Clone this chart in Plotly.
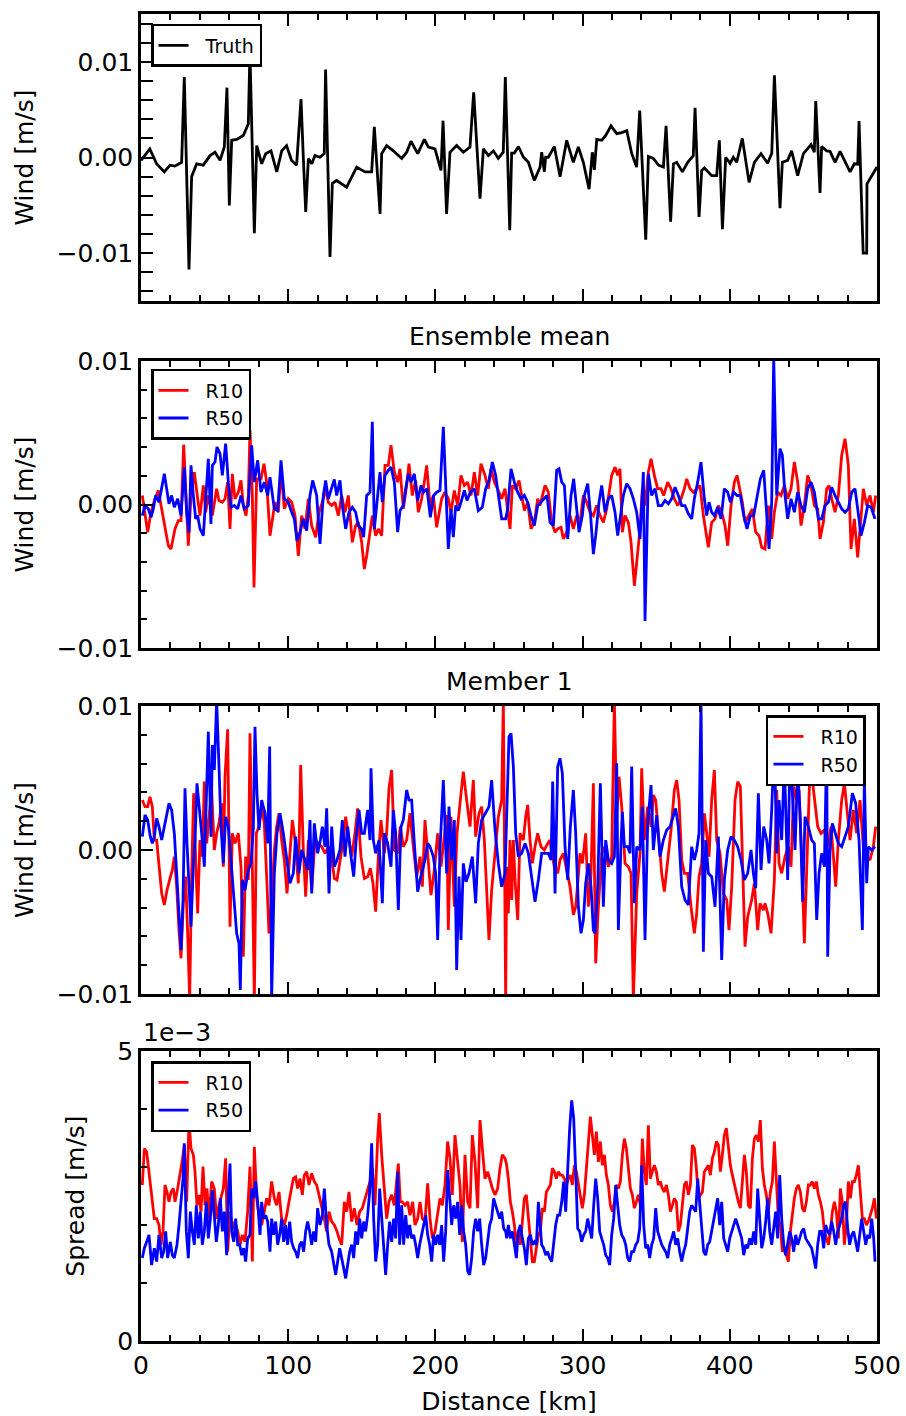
import numpy as np
import plotly.graph_objects as go

# Wind values are stored in units of 1e-3 m/s, positions in km.
WIND_UNIT = 1e-3

TRUTH = [
    (0, -0.3), (6, 0.9), (10.6, -0.66), (15.8, -1.5), (19.7, -0.8), (23, -0.9), (27.6, -0.5),
    (29.4, 8.4), (32.6, -11.7), (34.4, -2.0), (37.8, -0.66), (42.3, -0.8), (46.9, 0.2), (50.3, 0.55),
    (53.7, -0.3), (56.6, 1.1), (58.4, 7.3), (60, -5.0), (61.6, 1.8), (65, 1.9), (69.5, 2.3), (72.9, 3.5),
    (74, 11.1), (77, -7.9), (78.6, 1.25), (82, -0.66), (84.7, 0.4), (88.3, 0.7), (92.2, -1.5), (95.6, 0.7),
    (98.9, 1.25), (102.3, -0.3), (105.7, -0.8), (108.7, 6.1), (110.3, -0.1), (111.9, -5.7), (113.7, -0.1),
    (116, -0.66), (118.2, 0.2), (121.6, 0.03), (124.5, 0.4), (125.4, 9.2), (128.4, -10.4), (130, -2.7),
    (132.9, -2.4), (139.7, -3.1), (146.5, -1.0), (152.2, -1.5), (156.7, -1.5), (158.5, 3.2), (162.4, -5.9),
    (163.5, 0.4), (166.9, 1.25), (171.4, 0.7), (177.1, -0.1), (180.5, 0.55), (183.4, 1.7), (188, 0.4),
    (192.5, 1.9), (195.2, 1.1), (199.7, 0.9), (203.8, -1.35), (205.2, 3.85), (207.6, -5.9), (209.9, 0.55),
    (214.4, 1.25), (219, 0.55), (223.5, 1.1), (226, 6.8), (230.3, -4.3), (232.6, 0.9), (236, 0.2),
    (239.4, 0.7), (242.7, -0.1), (246.1, 0.55), (247.5, 8.4), (250.5, -7.6), (251.8, 0.45), (253.6, 0.45),
    (256.4, 1.15), (259.8, 0.03), (263.2, -0.5), (267.2, -2.4), (271.1, -1.0), (272.2, 0.55), (274, -1.5),
    (274.9, 0.03), (276.7, 0.03), (280.8, 1.15), (284.7, -2.0), (289.2, 1.8), (293.7, -0.5), (297.1, 1.1),
    (300.5, -0.5), (304.4, -3.3), (306.6, 0.55), (308, -1.3), (309.6, 1.9), (313, 1.8), (315.7, 2.3),
    (319.3, 3.3), (323.2, 2.5), (326.6, 2.6), (330, 2.8), (333.4, 0.4), (336.7, -1.0), (338.8, 4.9),
    (342.9, -8.6), (344.7, 0.1), (348.1, -0.1), (351.5, -0.8), (354.9, -1.0), (356.7, 3.3), (359.8, -6.7),
    (361.7, -0.66), (363.9, -0.5), (367.8, -1.5), (371.4, -0.5), (375.2, 0.2), (376.4, 5.2), (379.1, -6.2),
    (380.9, -1.35), (382.7, -1.1), (387.7, -1.9), (391.1, -1.9), (392.9, 1.8), (395, -7.5), (397.2, 0.03),
    (400.2, -0.6), (402.4, 0.03), (404.7, -0.5), (408.5, 2.0), (413.1, -2.6), (416.7, -0.5), (421.2, 0.4),
    (425.7, -0.6), (428.5, 0.45), (430.3, 8.6), (434.1, -5.3), (435.7, -0.5), (439.3, -0.3), (442, 0.7),
    (446.1, -1.9), (450, 0.4), (455.2, 1.35), (457.4, 0.55), (458.4, 5.9), (461.3, -3.7), (462.4, 1.15),
    (465.8, 0.7), (468.1, 0.65), (471.5, -0.5), (474.9, 0.65), (478.3, -0.5), (481.7, -1.5), (484.6, -0.66),
    (486.9, -0.7), (487.8, 3.8), (490.6, -10.0), (493, -10.0), (493.2, -2.75), (500, -1.0),
]

MEAN_R10 = [
    (0.9, 0.63), (2.71, -0.54), (4.53, -1.93), (6.79, -0.54), (9.51, 0.40), (11.77, 0.98), (14.04, -0.30),
    (16.75, -1.59), (18.57, -2.87), (20.38, -3.10), (23.09, -1.70), (25.36, -1.12), (27.17, -1.12),
    (28.98, 4.17), (30.34, 1.10), (32.15, -2.87), (33.96, 0.63), (36.23, 2.26), (38.49, 0.40), (40.08, -0.77),
    (42.34, 1.33), (43.93, -0.54), (45.74, 0.63), (48.46, -0.77), (51.4, 1.10), (52.99, 0.28), (55.25, 0.16),
    (57.06, 0.40), (58.87, 1.56), (60.46, -1.70), (62.04, 2.14), (63.86, 0.40), (66.12, 0.86), (67.93, 1.68),
    (69.52, -0.07), (71.33, -0.77), (72.91, 0.63), (74.05, 5.17), (75.63, 0.63), (76.76, -5.78), (78.57, 1.79),
    (81.52, 1.79), (83.56, 2.84), (85.37, 1.56), (87.63, -2.17), (89.22, -1.00), (91.03, 0.16), (93.29, -0.54),
    (95.11, 2.49), (97.37, -0.30), (100.09, 0.40), (102.35, 0.16), (104.62, -0.77), (106.88, -3.57),
    (109.15, -0.77), (111.41, -1.70), (113.67, 0.40), (115.94, -1.47), (118.66, -2.28), (120.92, -0.54),
    (123.19, 0.16), (125.45, 1.10), (127.26, 0.16), (129.53, -0.07), (131.79, 0.16), (134.05, -0.77),
    (136.32, 0.63), (138.58, -0.54), (140.85, 0.63), (143.57, -2.63), (145.83, -1.47), (147.64, -1.24),
    (149.91, -2.63), (151.72, -4.50), (153.3, -3.57), (155.57, -1.93), (157.15, -0.77), (159.42, -2.17),
    (161.23, -1.70), (163.49, -2.17), (165.76, 2.73), (168.02, 2.73), (169.83, 4.13), (172.1, 2.26),
    (174.36, 1.56), (175.95, 2.49), (178.21, -0.30), (180.48, 1.33), (182.06, 2.84), (184.33, 0.63),
    (186.59, 1.68), (188.4, -0.54), (190.67, 0.40), (192.48, 1.56), (194.06, 2.73), (196.33, -0.07),
    (198.59, 0.63), (200.86, -1.59), (202.44, -0.54), (204.25, 0.40), (206.52, 0.86), (208.78, 0.40),
    (210.59, -0.54), (212.86, 0.98), (215.12, -0.07), (217.39, 2.03), (219.65, 1.33), (221.92, 1.56),
    (224.18, 0.63), (226.45, 2.26), (228.71, 0.63), (230.97, 2.84), (233.69, 2.03), (235.96, 1.10),
    (237.77, 2.49), (240.03, 1.56), (242.75, 0.98), (245.02, 0.40), (247.28, 1.10), (250.7, -1.70),
    (252.28, 1.33), (254.55, 1.10), (256.81, 1.68), (258.62, 0.63), (260.43, -0.42), (262.7, 0.16),
    (264.96, -1.70), (267.23, -1.24), (269.49, 0.40), (271.08, -0.07), (272.66, 0.63), (274.47, 1.33),
    (276.74, 0.86), (279.0, -1.24), (281.27, -1.93), (283.08, -1.70), (285.34, -1.59), (286.93, -2.40),
    (289.19, -1.93), (291.46, -0.77), (293.72, -1.70), (295.99, -0.77), (298.25, -1.24), (300.52, 0.63),
    (302.78, 0.16), (305.04, -0.54), (307.31, -0.77), (309.57, -0.07), (311.84, -0.77), (314.1, -1.24),
    (316.37, -0.30), (317.95, 0.86), (319.76, 2.03), (322.03, 2.61), (323.84, 2.03), (325.42, 2.49),
    (327.01, -1.93), (328.82, -0.77), (331.09, -1.24), (332.9, -2.63), (335.16, -5.66), (337.43, -3.33),
    (339.01, -1.70), (340.6, 1.10), (342.41, -0.07), (344.67, 2.26), (346.48, 3.19), (348.75, 2.03),
    (351.01, 1.10), (353.28, 1.10), (355.09, 0.63), (357.81, 1.56), (360.07, 1.10), (362.34, 0.40),
    (364.6, -0.07), (366.87, 0.40), (369.13, 1.10), (370.72, 1.79), (372.98, 1.10), (375.24, 0.86),
    (377.51, 1.10), (379.77, 1.33), (382.04, -0.77), (383.62, -1.70), (385.43, -2.98), (387.7, -1.24),
    (389.96, -1.00), (392.23, -0.07), (394.49, -0.54), (396.76, -1.47), (398.57, -2.87), (400.83, -0.07),
    (403.1, 1.56), (404.91, 2.03), (406.95, 1.10), (408.53, 0.16), (410.34, -1.24), (412.61, -0.77),
    (415.33, -0.30), (417.59, -1.93), (419.86, -2.17), (421.67, -2.98), (423.93, -3.10), (426.2, -0.07),
    (428.46, -2.40), (430.27, -0.54), (432.54, 0.86), (434.8, 0.63), (437.07, 1.33), (439.33, 0.40),
    (441.6, 1.10), (443.86, 2.96), (446.12, 1.56), (448.39, -1.47), (450.65, -0.07), (452.92, 2.03),
    (455.18, 1.33), (457.45, -0.07), (459.71, -0.30), (461.3, -2.40), (463.56, -1.24), (465.82, 1.10),
    (467.41, 1.33), (469.22, 0.40), (471.49, -0.54), (473.75, 0.63), (476.02, 3.43), (478.28, 4.59),
    (480.54, 2.73), (482.36, -3.10), (484.62, -1.00), (486.89, -3.68), (488.47, -1.70), (490.73, 1.10),
    (493.0, -0.07), (495.26, 0.63), (497.53, -0.54), (499.11, 0.63),
]

MEAN_R50 = [
    (0.9, -0.77), (2.71, -0.07), (4.98, -0.30), (6.79, -0.89), (8.37, -0.30), (9.96, 0.63), (12.22, 0.16),
    (14.04, 1.10), (15.85, 2.14), (17.43, 1.10), (19.02, 0.05), (20.83, 0.63), (22.64, -0.19), (24.91, 0.40),
    (27.17, -0.77), (29.43, 2.61), (31.02, -0.54), (32.6, -1.93), (33.96, 2.73), (35.55, 0.63), (37.13, -1.00),
    (38.49, -0.77), (40.08, -1.70), (42.34, -2.17), (43.93, 0.63), (45.74, 3.19), (47.55, -1.35), (48.46, 2.73),
    (50.27, 2.96), (51.63, 4.01), (53.66, 3.54), (55.25, 2.03), (57.51, 4.24), (59.33, 1.56), (61.14, -0.19),
    (63.4, -0.07), (65.67, -0.30), (67.93, 0.63), (70.2, -0.30), (72.91, -0.07), (75.18, 4.13), (76.99, 1.56),
    (79.25, 3.08), (81.52, 0.86), (83.78, 1.56), (86.05, 0.63), (87.63, 1.91), (90.58, -0.30), (92.84, -0.42),
    (95.11, 3.08), (97.37, 0.40), (100.09, 0.16), (102.35, -0.54), (104.16, -1.00), (105.97, -2.52),
    (108.01, -1.93), (110.28, -1.00), (112.54, -1.82), (114.81, 0.63), (116.62, 1.68), (119.34, 0.63),
    (121.6, -2.75), (123.86, 0.63), (125.45, 1.68), (127.26, 0.40), (129.53, 1.10), (131.34, 1.75),
    (132.92, 0.63), (135.19, 1.68), (136.77, -0.07), (139.04, -1.70), (141.3, -0.54), (143.57, -0.19),
    (145.83, -0.54), (147.64, -1.47), (149.91, -1.70), (151.26, -2.28), (153.3, 0.63), (155.57, 0.86),
    (157.15, 5.76), (158.51, -1.70), (160.78, 0.63), (162.36, 2.26), (163.95, 0.16), (165.76, 2.03),
    (168.02, 2.38), (169.83, 2.61), (172.1, 1.56), (174.36, -1.93), (175.95, -0.42), (178.21, -0.07),
    (179.8, 1.10), (181.61, 2.14), (183.42, 1.56), (185.69, 2.14), (187.95, 0.28), (190.22, 1.33),
    (192.03, 0.86), (194.29, 1.10), (196.56, -0.89), (198.82, 0.63), (200.86, 0.86), (203.12, 0.98),
    (205.39, 5.41), (206.97, 1.79), (208.78, -3.10), (210.59, -0.30), (212.18, -2.28), (213.76, -0.07),
    (215.58, -0.42), (217.39, 0.16), (219.65, 0.98), (221.46, 0.28), (223.73, 0.86), (226.45, 1.10),
    (229.16, -0.42), (231.88, -0.19), (234.15, 1.10), (236.41, 1.68), (238.68, 2.96), (240.94, 2.03),
    (243.21, 0.16), (245.02, -1.00), (247.74, -1.00), (249.11, -0.30), (251.38, 2.49), (253.64, 1.56),
    (255.91, 0.86), (258.17, 0.40), (260.43, 0.63), (262.7, 0.16), (264.96, -0.77), (267.23, -1.47),
    (269.49, -0.07), (271.76, 0.16), (274.02, 0.40), (275.83, 0.63), (277.87, -1.24), (280.14, -1.47),
    (282.4, 2.38), (283.98, 2.49), (285.8, 1.56), (287.61, 1.33), (289.87, -2.40), (292.14, 0.63),
    (293.95, 1.79), (295.99, -0.07), (297.57, -1.93), (299.84, -0.77), (301.2, 0.63), (303.46, 1.45),
    (305.27, -0.54), (307.31, -3.45), (308.89, -2.17), (311.16, 0.16), (312.97, 1.33), (315.24, -0.54),
    (317.5, 0.40), (319.76, 0.63), (322.03, -0.54), (323.84, -2.17), (325.65, -0.77), (327.69, 0.63),
    (329.95, 1.45), (332.22, 1.10), (334.48, 0.40), (336.75, -0.54), (339.01, -2.40), (341.28, 2.26),
    (342.41, -8.11), (344.67, 2.14), (346.94, 0.63), (349.2, 1.10), (351.47, -0.07), (353.73, -0.07),
    (356.0, 0.28), (358.26, 0.05), (360.53, 0.40), (362.79, 1.21), (365.05, 0.63), (367.32, -0.07),
    (369.58, -0.07), (371.85, -0.65), (374.11, -1.00), (375.92, 0.40), (378.19, 1.56), (380.45, 2.96),
    (382.72, 0.40), (384.3, -0.77), (385.89, 0.16), (387.7, -0.54), (389.51, -0.77), (391.78, -0.19),
    (394.04, -1.00), (396.3, 1.10), (398.57, 0.86), (400.38, 0.16), (402.64, 0.86), (404.91, 0.63),
    (407.17, 0.63), (409.44, -0.77), (411.7, -1.70), (413.97, -0.77), (416.23, -0.77), (418.5, 0.63),
    (420.76, 1.79), (423.03, 2.38), (424.84, -0.77), (426.65, -3.10), (428.46, 0.16), (429.82, 10.3),
    (431.86, 0.63), (434.12, 3.89), (435.71, 3.43), (437.52, 0.63), (439.33, -1.00), (441.6, 0.40),
    (443.86, -0.54), (446.12, 0.86), (448.39, -0.07), (450.65, -0.54), (452.92, 1.10), (455.18, 1.56),
    (457.45, 0.86), (460.16, -1.00), (462.43, -1.00), (464.69, -0.07), (466.96, 0.16), (469.22, 1.21),
    (471.49, 0.63), (473.75, 0.16), (476.02, -0.30), (478.28, -0.54), (480.54, -0.30), (482.81, 0.86),
    (485.07, 1.10), (486.89, -0.30), (489.15, -2.17), (491.42, -1.24), (493.68, -0.07), (495.95, -0.19),
    (498.66, -1.00),
]

MEMBER_R10 = [
    (0.9, 3.47), (2.71, 3.01), (4.53, 3.01), (6.11, 3.70), (7.7, 3.01), (9.05, 0.69), (10.64, 0.69),
    (12.22, -0.93), (14.04, -3.01), (15.85, -3.82), (17.66, -2.78), (19.7, -1.97), (21.28, -1.39),
    (22.64, -0.46), (24.23, -2.55), (25.81, -5.56), (27.17, -7.52), (28.76, -3.70), (30.34, -1.85),
    (31.7, -5.79), (33.06, -10.4), (34.42, -1.62), (35.78, 3.94), (37.13, -0.69), (38.49, -4.40),
    (40.08, 0.69), (41.66, -0.46), (43.02, 4.75), (44.61, 0.46), (46.19, 2.31), (48.0, 4.17), (49.81, 0.00),
    (51.4, 1.16), (52.99, 1.85), (54.8, 3.24), (55.93, -1.16), (57.06, 5.09), (58.87, 8.38), (60.46, -5.32),
    (62.04, 1.16), (63.86, 0.46), (66.12, 1.16), (67.93, -1.16), (69.52, -7.41), (71.1, -0.46),
    (72.91, -2.08), (74.05, 8.10), (75.63, -1.16), (76.99, -10.4), (78.35, 1.16), (80.16, 1.62),
    (81.97, 3.01), (83.78, 1.85), (85.37, -1.85), (86.95, -5.79), (88.76, -3.47), (90.58, 0.00),
    (92.16, 1.62), (93.75, 2.55), (95.56, 0.69), (97.37, -0.69), (99.18, -3.01), (101.22, -0.23),
    (102.81, 2.08), (104.62, 0.69), (106.88, -2.31), (108.47, 5.90), (110.28, 0.00), (111.86, -3.24),
    (113.67, 0.69), (115.94, -2.78), (118.2, 0.69), (120.47, 0.46), (122.73, 0.23), (125.0, -0.23),
    (127.26, 0.23), (129.53, -0.46), (131.34, -1.97), (133.15, -2.08), (135.19, -0.69), (137.45, 0.69),
    (139.04, 2.31), (141.3, 0.69), (143.11, -0.46), (145.38, 1.16), (147.19, 2.89), (149.45, -0.46),
    (151.72, -1.97), (153.98, -1.85), (155.79, -1.27), (157.6, -2.31), (159.42, -4.28), (161.23, -0.46),
    (163.04, 2.08), (165.3, -0.23), (166.89, 1.16), (168.47, 4.28), (170.28, 5.56), (172.1, 0.00),
    (174.36, -0.23), (176.17, 1.62), (178.21, 0.23), (180.48, 0.69), (182.74, 2.55), (185.01, 0.23),
    (187.27, -1.85), (189.53, -0.46), (191.12, -2.55), (192.93, 2.08), (194.74, -0.46), (197.01, -3.13),
    (199.27, -1.39), (201.54, 1.16), (203.8, -1.16), (206.07, 1.16), (207.65, 2.43), (208.78, -5.56),
    (210.59, 2.31), (212.86, -3.94), (214.67, 1.16), (216.71, 3.24), (218.97, 5.44), (221.24, 3.47),
    (223.5, 1.62), (225.77, 4.86), (227.35, 0.93), (229.62, 2.55), (231.43, 3.01), (233.24, 0.69),
    (234.82, -2.31), (236.41, -6.25), (238.22, -2.78), (240.49, -0.23), (242.75, 2.31), (245.02, 3.47),
    (246.15, 10.4), (247.74, -10.4), (248.43, -1.16), (249.56, -4.40), (250.7, 0.69), (251.83, -3.47),
    (252.96, 0.69), (254.09, -2.08), (255.91, -4.86), (257.49, 1.16), (259.75, 0.69), (261.34, 2.31),
    (262.7, 3.13), (264.28, 0.69), (265.87, -0.93), (267.68, 0.23), (269.49, 1.16), (271.76, 0.23),
    (274.02, 0.00), (276.29, 0.46), (277.87, 0.69), (279.0, -0.23), (280.81, -1.16), (283.08, -1.62),
    (284.66, -0.69), (286.93, -0.23), (289.19, -1.39), (291.46, -2.55), (293.72, -4.51), (295.31, -3.94),
    (296.67, -2.31), (298.25, -0.23), (299.84, -0.93), (302.1, 1.16), (303.91, -3.94), (305.72, -1.62),
    (307.31, 4.63), (308.89, -7.87), (310.71, -3.94), (312.97, -0.23), (315.24, 0.23), (317.5, -1.16),
    (319.76, -0.46), (321.58, 10.4), (323.16, 2.31), (324.75, 5.09), (326.56, 3.01), (328.82, -0.93),
    (331.09, -1.16), (332.9, -1.62), (334.48, -10.4), (336.75, -3.01), (339.01, -0.23), (340.14, 5.67),
    (341.96, 0.69), (344.22, 3.01), (346.48, 1.62), (348.07, 3.82), (349.66, 3.47), (351.47, 1.16),
    (353.73, -1.62), (355.54, -2.89), (357.81, -0.69), (360.07, 1.39), (362.34, 4.17), (363.92, 4.86),
    (365.51, 3.47), (367.32, -0.69), (369.13, -1.62), (371.39, -1.62), (373.66, -3.94), (375.92, -5.79),
    (377.51, -4.40), (379.09, -1.85), (380.9, -0.93), (382.72, 2.55), (384.3, 1.16), (385.89, -0.46),
    (387.7, 3.47), (389.51, 5.56), (391.1, 0.69), (393.36, -0.23), (395.63, -3.01), (397.89, -3.47),
    (399.47, -5.56), (401.29, -2.55), (403.55, 3.47), (405.36, 4.75), (407.17, 4.40), (408.53, 0.00),
    (410.34, -6.71), (412.16, -4.63), (414.87, -3.47), (416.68, -2.31), (418.95, -5.56), (420.53, -3.70),
    (422.8, -4.17), (423.93, -3.70), (425.74, -4.40), (428.01, -5.79), (430.27, -2.08), (431.86, 4.17),
    (433.44, -0.93), (435.25, -1.62), (437.52, -0.46), (439.78, 0.23), (441.6, -1.16), (443.41, 4.40),
    (445.45, 3.47), (447.03, 4.17), (448.84, -0.46), (450.65, -6.48), (452.24, -1.62), (454.5, 5.79),
    (456.09, 4.86), (457.9, 3.01), (459.71, 1.62), (461.97, 1.16), (464.24, 1.39), (466.5, 0.23),
    (468.77, 1.62), (470.58, -0.69), (471.94, -2.55), (473.75, 0.69), (476.02, 3.47), (477.83, 4.63),
    (479.41, 3.01), (481.68, 0.69), (483.94, 2.78), (486.21, 1.16), (488.47, 3.47), (490.73, 0.23),
    (493.0, -0.46), (495.26, -0.69), (497.53, 0.23), (499.11, 1.62),
]

MEMBER_R50 = [
    (0.9, 0.93), (2.71, 2.43), (4.53, 2.08), (6.34, 0.93), (7.7, 0.46), (9.05, 0.93), (10.64, 2.20),
    (12.22, 1.62), (14.04, 0.69), (15.85, 1.62), (17.43, 2.43), (19.02, 3.24), (20.83, 2.78), (22.64, 1.16),
    (24.23, -1.62), (25.81, -4.86), (27.17, -6.94), (28.53, -3.47), (29.89, 4.28), (31.25, 0.46),
    (32.6, -2.55), (33.96, -5.32), (35.55, -1.16), (36.68, 0.69), (38.04, 4.63), (39.4, 3.24), (41.21, 1.16),
    (43.02, -1.16), (44.61, 3.47), (45.74, 8.22), (47.55, 0.93), (48.46, 7.29), (49.81, 5.56), (51.4, 10.4),
    (52.99, 5.79), (54.34, 1.62), (55.93, -0.93), (57.51, 2.31), (59.33, 1.62), (61.59, -1.39),
    (63.4, -3.47), (64.99, -5.79), (66.57, -6.48), (67.48, -9.72), (68.84, -2.08), (70.65, -2.78),
    (72.91, -1.39), (74.72, -0.93), (76.31, 1.50), (77.44, 8.56), (78.8, 3.94), (80.16, 1.39), (81.97, 3.47),
    (84.24, 2.55), (86.05, 0.46), (87.41, 7.18), (88.76, -10.4), (90.58, -1.62), (92.39, 1.16),
    (94.43, 2.55), (96.69, 1.16), (98.96, -0.69), (101.22, -2.31), (103.48, -1.62), (105.07, 0.93),
    (107.33, -1.62), (109.15, 0.00), (111.41, -0.69), (113.22, -1.39), (114.81, 2.08), (115.94, -3.01),
    (117.75, 1.85), (120.01, -0.23), (121.83, 0.69), (123.19, 1.62), (125.0, 0.23), (126.13, 2.89),
    (127.72, -3.01), (129.53, 1.62), (131.34, -1.16), (133.15, -0.69), (135.19, 0.00), (136.77, 2.08),
    (138.58, -0.46), (140.39, 1.62), (142.66, -0.46), (144.47, -1.85), (146.51, 1.16), (148.1, 2.78),
    (149.91, 1.16), (151.72, 1.16), (153.98, 2.78), (155.57, 0.69), (156.25, 5.67), (157.83, 0.69),
    (159.42, -0.23), (161.68, 0.69), (163.95, -3.70), (165.3, 1.16), (167.57, 0.46), (169.83, -1.16),
    (171.42, 2.78), (173.0, 1.16), (174.81, -4.17), (176.63, 1.62), (178.21, 2.08), (180.48, 4.17),
    (182.06, 3.47), (183.87, 3.47), (185.69, 0.46), (187.95, -2.89), (189.53, -2.08), (191.12, -1.39),
    (192.93, -0.69), (194.74, 0.46), (196.33, 0.23), (198.59, -0.46), (200.18, -1.62), (201.54, -6.25),
    (203.12, 0.00), (205.39, 4.86), (207.65, -1.62), (209.24, 3.01), (211.05, -0.69), (212.86, 2.08),
    (214.45, -8.33), (216.03, -1.85), (217.39, -6.25), (218.97, -0.93), (220.79, -2.20), (222.82, -1.62),
    (225.09, -0.46), (227.35, -3.70), (229.16, 0.46), (231.43, 2.08), (234.15, 2.55), (236.41, 3.01),
    (238.22, 4.86), (240.49, 1.39), (242.75, -0.93), (245.02, -2.55), (247.28, -1.62), (249.09, 3.70),
    (250.0, 7.87), (251.38, 8.10), (252.96, 5.79), (254.55, 1.16), (256.36, -0.46), (258.62, -0.23),
    (260.89, 0.46), (263.15, -0.23), (265.42, -1.85), (267.68, -3.59), (269.95, -2.08), (272.21, -0.23),
    (274.47, -0.23), (276.74, -0.23), (278.55, -0.69), (279.68, 4.75), (281.27, -3.01), (283.08, 5.79),
    (284.66, 6.37), (286.25, 5.32), (288.06, 0.23), (289.87, -2.08), (291.68, 1.62), (293.72, 4.17),
    (295.31, 1.16), (297.12, -3.94), (298.93, -5.79), (300.52, -4.86), (302.1, -2.31), (303.91, -0.93),
    (305.72, -2.55), (307.31, -5.56), (308.44, -5.79), (310.25, -2.55), (312.06, 4.63), (314.1, -3.94),
    (315.69, 0.69), (317.5, -0.69), (319.76, -0.93), (321.58, -0.46), (323.16, 6.02), (324.29, -5.56),
    (326.1, 0.46), (327.01, 2.66), (328.37, 0.23), (330.63, 0.23), (332.22, -0.23), (333.35, 5.79),
    (335.16, -3.70), (336.75, 0.23), (339.01, 0.00), (340.6, 3.01), (342.41, -6.25), (344.22, 1.85),
    (346.48, 4.51), (348.07, 0.00), (350.34, 2.43), (352.6, -0.46), (354.86, 0.69), (357.13, 1.39),
    (359.39, 1.62), (361.66, 2.31), (363.24, 2.89), (365.05, 1.62), (367.32, -2.55), (369.58, -3.47),
    (371.85, -3.82), (374.11, 0.23), (375.92, -0.69), (377.51, 0.00), (379.09, 1.16), (380.45, 10.4),
    (382.04, -7.06), (383.62, 0.69), (385.43, -1.62), (387.7, -1.85), (389.96, -3.94), (392.23, 0.93),
    (394.49, -7.64), (396.3, -2.08), (398.57, 0.00), (400.83, 0.93), (403.1, 0.69), (405.36, 0.23),
    (407.63, -0.69), (409.89, -2.08), (412.16, -1.62), (414.42, 0.00), (416.01, -1.62), (417.59, -2.66),
    (419.4, 3.94), (421.22, -1.39), (423.03, 1.62), (425.07, 0.69), (426.65, -0.93), (428.46, 2.78),
    (430.27, 7.64), (431.86, -0.23), (433.44, 3.47), (435.25, 0.69), (437.07, 6.25), (439.33, -2.08),
    (440.92, 6.94), (442.5, 3.94), (444.31, 0.00), (446.12, 5.79), (447.71, 2.55), (449.52, -3.59),
    (451.11, 2.31), (453.37, 1.62), (455.63, 0.69), (457.45, 0.46), (459.03, -4.86), (460.62, -1.62),
    (462.43, -0.23), (464.24, -1.16), (465.82, 7.18), (466.5, -7.41), (468.09, 0.00), (469.67, 1.85),
    (471.49, 1.16), (473.75, 0.46), (476.02, 0.23), (478.28, 0.93), (480.54, 1.62), (483.26, 3.94),
    (485.52, 3.24), (487.79, 0.69), (490.06, -5.56), (491.42, 4.86), (493.0, -2.31), (494.13, 0.23),
    (496.39, 0.00), (498.66, 0.23),
]

SPREAD_R10 = [
    (0.9, 2.69), (2.26, 3.32), (3.85, 3.26), (5.43, 2.92), (7.24, 2.46), (9.05, 2.11), (10.64, 2.11),
    (12.22, 2.00), (13.58, 1.66), (14.94, 1.89), (16.3, 2.69), (17.66, 2.57), (19.02, 2.40), (20.38, 2.57),
    (21.96, 2.63), (23.09, 2.40), (24.91, 2.63), (26.49, 2.86), (28.08, 3.12), (29.43, 3.38), (31.02, 2.40),
    (32.6, 3.78), (33.96, 3.32), (35.55, 3.21), (36.68, 2.92), (38.04, 2.34), (39.4, 2.52), (40.76, 2.23),
    (42.12, 3.01), (43.47, 2.34), (44.83, 2.63), (46.19, 2.11), (48.0, 2.75), (49.81, 2.63), (51.4, 2.11),
    (52.99, 2.34), (54.34, 2.46), (55.93, 2.63), (57.51, 3.15), (58.87, 1.54), (60.46, 2.23), (62.04, 1.94),
    (63.86, 2.06), (65.67, 1.89), (67.25, 1.66), (68.84, 1.83), (70.65, 1.71), (72.46, 2.23), (74.05, 3.01),
    (75.63, 1.37), (76.99, 3.35), (78.57, 2.46), (80.16, 2.17), (81.97, 2.00), (83.78, 2.23), (85.37, 2.46),
    (86.95, 2.34), (88.76, 2.75), (90.58, 2.46), (92.16, 2.34), (93.75, 2.57), (95.56, 2.11), (97.37, 2.00),
    (98.96, 2.17), (100.54, 2.40), (101.9, 2.57), (103.48, 2.80), (105.07, 2.83), (106.43, 2.63),
    (108.01, 2.80), (109.6, 2.52), (110.96, 2.86), (112.54, 2.92), (114.13, 2.69), (115.94, 2.89),
    (117.75, 2.75), (119.34, 2.69), (120.92, 2.52), (122.73, 2.34), (124.55, 2.11), (126.13, 1.89),
    (127.72, 2.23), (129.53, 2.06), (131.34, 2.00), (133.15, 1.89), (134.51, 1.77), (136.32, 1.66),
    (138.13, 2.40), (139.72, 2.23), (141.3, 2.57), (143.11, 2.06), (144.92, 2.29), (146.73, 2.00),
    (148.55, 2.23), (150.36, 2.29), (152.17, 2.46), (153.98, 2.63), (155.57, 2.75), (157.15, 2.98),
    (158.97, 2.34), (160.78, 3.49), (161.91, 3.93), (163.49, 3.21), (165.3, 2.63), (166.89, 2.11),
    (168.47, 2.40), (170.28, 2.52), (172.1, 2.34), (173.68, 2.75), (174.81, 3.06), (176.17, 2.40),
    (177.53, 2.40), (179.34, 2.34), (181.15, 2.40), (182.74, 2.17), (184.55, 2.40), (186.14, 2.00),
    (187.95, 2.11), (189.53, 2.40), (191.12, 2.11), (192.93, 2.06), (194.74, 2.72), (196.33, 2.11),
    (197.91, 1.77), (199.73, 1.89), (201.54, 2.23), (203.12, 2.46), (204.71, 2.34), (206.52, 2.69),
    (208.33, 3.44), (209.92, 3.15), (211.5, 2.52), (213.31, 3.55), (215.12, 3.09), (216.71, 2.69),
    (218.3, 1.71), (220.1, 3.21), (221.92, 2.40), (223.5, 2.29), (225.09, 3.55), (226.9, 3.09),
    (228.71, 2.29), (230.3, 3.81), (231.88, 3.32), (233.69, 2.80), (235.5, 2.92), (237.09, 2.75),
    (238.68, 2.63), (240.49, 2.52), (242.3, 2.63), (243.88, 2.98), (245.47, 3.21), (247.3, 3.15),
    (248.43, 3.03), (249.56, 2.80), (250.92, 2.40), (252.28, 2.23), (253.64, 2.00), (255.0, 1.66),
    (256.36, 1.89), (257.72, 1.66), (259.08, 2.00), (260.43, 2.46), (261.79, 2.52), (263.15, 2.11),
    (264.51, 1.66), (265.87, 1.37), (267.23, 1.37), (268.59, 1.60), (269.95, 1.83), (271.3, 1.89),
    (272.66, 2.29), (274.02, 2.23), (275.38, 2.57), (276.74, 2.63), (278.1, 2.69), (279.46, 2.98),
    (280.81, 2.92), (282.17, 2.80), (283.53, 2.92), (284.89, 2.86), (286.25, 2.86), (287.61, 2.80),
    (288.97, 2.69), (290.33, 2.80), (291.68, 2.86), (293.04, 2.69), (294.4, 3.03), (295.76, 2.92),
    (297.12, 2.69), (298.48, 2.52), (299.84, 2.29), (301.2, 2.52), (302.55, 2.92), (303.91, 3.32),
    (305.27, 3.87), (306.63, 3.55), (307.99, 3.21), (309.35, 3.61), (310.71, 3.09), (312.07, 3.44),
    (313.42, 3.03), (314.78, 3.21), (316.14, 2.86), (317.5, 2.69), (318.86, 2.34), (320.22, 2.23),
    (321.58, 2.40), (322.94, 2.69), (324.29, 2.63), (325.65, 2.75), (327.01, 3.21), (328.37, 3.49),
    (329.73, 3.32), (331.09, 2.98), (332.45, 2.63), (333.8, 2.52), (335.16, 2.29), (336.52, 2.40),
    (337.88, 2.52), (339.24, 2.34), (340.6, 3.49), (341.96, 2.92), (343.32, 2.69), (344.67, 3.72),
    (346.03, 2.80), (347.39, 2.92), (348.75, 3.03), (350.11, 2.92), (351.47, 2.69), (352.83, 2.75),
    (354.19, 2.63), (355.54, 2.57), (356.9, 2.69), (358.26, 2.52), (359.62, 2.23), (360.98, 2.34),
    (362.34, 2.46), (363.7, 2.40), (365.06, 1.89), (366.41, 2.00), (367.77, 2.34), (369.13, 2.69),
    (370.49, 2.75), (371.85, 2.52), (373.21, 2.69), (374.57, 3.38), (375.93, 3.32), (377.28, 2.98),
    (378.64, 2.46), (380.0, 2.52), (381.36, 2.57), (382.72, 2.92), (384.08, 2.98), (385.44, 3.03),
    (386.8, 2.86), (388.15, 3.15), (389.51, 3.26), (390.87, 3.44), (392.23, 3.38), (393.59, 2.92),
    (394.95, 3.21), (396.31, 3.55), (397.66, 3.67), (399.02, 3.38), (400.38, 3.03), (401.74, 2.86),
    (403.1, 2.69), (404.46, 2.57), (405.82, 2.40), (407.18, 2.29), (408.53, 2.80), (409.89, 3.21),
    (411.25, 2.92), (412.61, 2.34), (413.97, 2.29), (415.33, 3.15), (416.69, 3.49), (418.05, 3.55),
    (419.41, 3.44), (420.76, 3.81), (422.12, 2.98), (423.48, 2.69), (424.84, 2.52), (426.2, 2.23),
    (427.56, 2.57), (428.92, 2.75), (430.28, 3.44), (431.63, 2.80), (432.99, 2.11), (434.35, 2.00),
    (435.71, 1.54), (437.07, 1.60), (438.43, 1.48), (439.79, 1.37), (441.15, 1.89), (442.5, 2.17),
    (443.86, 2.46), (445.22, 2.63), (446.58, 2.69), (447.94, 2.57), (449.3, 2.29), (450.66, 2.23),
    (452.02, 2.40), (453.37, 2.69), (454.73, 2.69), (456.09, 2.75), (457.45, 2.63), (458.81, 2.75),
    (460.17, 2.52), (461.53, 2.40), (462.89, 2.23), (464.24, 1.89), (465.6, 1.77), (466.96, 1.66),
    (468.32, 1.89), (469.68, 2.23), (471.04, 2.40), (472.4, 2.23), (473.75, 1.77), (475.11, 2.63),
    (476.47, 2.40), (477.83, 1.66), (479.19, 2.00), (480.55, 2.75), (481.91, 2.46), (483.27, 2.75),
    (484.63, 2.75), (485.99, 2.86), (487.34, 3.03), (488.7, 2.57), (490.06, 2.11), (491.42, 2.11),
    (492.78, 2.00), (494.14, 2.06), (495.5, 2.17), (496.86, 2.29), (498.22, 2.46), (499.57, 2.11),
]

SPREAD_R50 = [
    (0.9, 1.43), (2.26, 1.60), (3.85, 1.71), (5.43, 1.83), (7.24, 1.31), (9.05, 1.60), (10.64, 1.37),
    (12.22, 1.83), (14.04, 1.43), (15.39, 1.54), (16.75, 1.89), (18.11, 1.43), (19.92, 1.71), (21.28, 1.48),
    (22.64, 1.43), (24.45, 1.66), (25.81, 2.00), (27.17, 2.34), (28.53, 2.80), (29.43, 3.41), (30.79, 1.89),
    (32.15, 1.43), (33.51, 2.23), (34.87, 1.89), (36.23, 1.66), (37.59, 2.34), (38.95, 1.77), (40.3, 2.23),
    (41.66, 1.66), (43.02, 1.89), (44.38, 2.40), (45.74, 1.77), (47.1, 2.11), (48.46, 2.60), (49.81, 2.11),
    (51.17, 1.71), (52.53, 2.00), (53.89, 2.46), (55.25, 1.89), (56.61, 2.23), (58.19, 1.48), (59.33, 2.52),
    (60.46, 3.06), (61.59, 1.89), (62.95, 1.71), (64.31, 2.11), (65.67, 1.66), (67.03, 1.66), (68.38, 1.48),
    (69.74, 1.60), (71.1, 1.37), (72.46, 1.77), (74.05, 1.83), (75.18, 2.63), (76.54, 2.46), (77.9, 2.75),
    (79.25, 2.40), (80.84, 1.83), (81.97, 2.40), (83.33, 2.11), (84.69, 2.17), (86.05, 2.06), (87.63, 1.54),
    (88.76, 2.11), (90.12, 1.83), (91.48, 2.06), (92.84, 1.66), (94.2, 1.83), (95.56, 2.11), (96.92, 1.71),
    (98.27, 2.00), (99.63, 1.66), (100.99, 2.06), (102.35, 1.71), (103.71, 1.60), (105.07, 1.54),
    (106.43, 1.43), (107.79, 1.66), (109.15, 1.71), (110.5, 1.54), (111.86, 1.89), (113.22, 2.06),
    (114.58, 1.89), (115.94, 1.66), (117.3, 1.89), (118.66, 1.71), (120.01, 2.29), (121.6, 2.00),
    (123.19, 2.17), (124.55, 2.63), (126.13, 2.00), (127.72, 1.66), (129.53, 1.54), (130.89, 1.31),
    (132.24, 1.14), (133.6, 1.37), (134.96, 1.60), (136.32, 1.43), (137.68, 1.25), (139.04, 1.08),
    (140.39, 1.31), (141.75, 1.54), (143.11, 1.66), (144.47, 1.43), (145.83, 1.89), (147.19, 1.66),
    (148.55, 2.11), (149.91, 1.77), (151.26, 2.06), (152.62, 1.89), (153.98, 2.17), (155.34, 2.57),
    (156.7, 3.41), (158.06, 2.11), (159.42, 1.37), (160.78, 1.66), (162.13, 2.63), (163.49, 2.17),
    (164.85, 1.66), (166.21, 1.14), (167.57, 1.66), (168.93, 2.06), (170.29, 1.71), (171.65, 2.11),
    (173.0, 1.77), (174.36, 2.92), (175.72, 1.66), (177.08, 2.34), (178.44, 1.66), (179.8, 2.17),
    (181.16, 1.77), (182.52, 2.00), (183.87, 1.77), (185.23, 1.83), (186.59, 1.66), (187.95, 1.43),
    (189.31, 1.66), (190.67, 1.83), (192.03, 2.06), (193.39, 2.17), (194.74, 1.83), (196.1, 1.66),
    (197.46, 1.37), (198.82, 1.83), (200.18, 1.66), (201.54, 1.83), (202.9, 1.66), (204.26, 2.00),
    (205.61, 1.37), (206.97, 1.89), (208.33, 2.95), (209.69, 2.46), (211.05, 2.00), (212.41, 2.34),
    (213.77, 2.11), (215.12, 2.40), (216.48, 1.83), (217.84, 2.34), (219.2, 1.89), (220.56, 1.66),
    (221.92, 1.20), (223.28, 1.14), (224.64, 1.43), (225.99, 1.89), (227.35, 2.11), (228.71, 1.89),
    (230.07, 2.11), (231.43, 1.66), (232.79, 1.31), (234.15, 1.43), (235.5, 1.77), (236.86, 2.00),
    (238.22, 2.11), (239.58, 2.46), (240.94, 2.34), (242.3, 2.23), (243.66, 2.11), (245.02, 2.23),
    (246.37, 1.94), (247.73, 1.89), (248.43, 1.77), (249.56, 2.00), (250.92, 1.77), (252.28, 1.89),
    (253.64, 1.66), (255.0, 1.43), (256.36, 1.89), (257.72, 2.00), (259.08, 1.77), (260.43, 1.60),
    (261.79, 1.31), (263.15, 1.77), (264.51, 1.83), (265.87, 1.66), (267.23, 1.71), (268.59, 1.66),
    (269.95, 2.40), (270.85, 2.11), (272.21, 1.66), (273.57, 1.60), (274.93, 1.48), (276.29, 1.54),
    (277.64, 1.43), (279.0, 1.37), (280.36, 1.66), (281.72, 2.00), (283.08, 2.17), (284.44, 2.17),
    (285.8, 2.40), (287.16, 2.75), (288.51, 2.23), (289.87, 3.09), (291.23, 3.67), (292.59, 4.15),
    (293.95, 3.84), (295.31, 2.92), (296.67, 1.94), (298.03, 1.89), (299.38, 1.71), (300.74, 1.83),
    (302.1, 1.89), (303.46, 2.11), (304.82, 1.94), (306.18, 1.77), (307.54, 2.34), (308.89, 2.80),
    (310.25, 2.46), (311.61, 1.89), (312.97, 1.77), (314.33, 1.66), (315.69, 1.48), (317.05, 1.43),
    (318.41, 1.31), (319.76, 1.83), (321.12, 2.11), (322.48, 2.69), (323.84, 2.34), (325.2, 2.00),
    (326.56, 1.83), (327.92, 1.77), (329.28, 1.66), (330.63, 1.43), (331.99, 1.37), (333.35, 1.54),
    (334.71, 1.54), (336.07, 1.66), (337.43, 1.71), (338.79, 1.94), (340.14, 3.03), (341.5, 2.00),
    (342.86, 1.60), (344.22, 1.66), (345.58, 1.43), (346.94, 1.66), (348.3, 1.77), (349.66, 2.29),
    (351.02, 1.89), (352.37, 1.77), (353.73, 1.66), (355.09, 1.60), (356.45, 1.54), (357.81, 1.43),
    (359.17, 1.66), (360.53, 1.77), (361.88, 1.89), (363.24, 1.66), (364.6, 1.77), (365.96, 1.54),
    (367.32, 1.37), (368.68, 1.54), (370.04, 1.66), (371.39, 1.94), (372.75, 2.23), (374.11, 2.34),
    (375.47, 2.29), (376.83, 2.23), (378.19, 2.80), (379.55, 2.34), (380.9, 1.89), (382.26, 1.54),
    (383.62, 1.48), (384.98, 1.66), (386.34, 1.71), (387.7, 1.89), (389.06, 2.11), (390.42, 2.23),
    (391.77, 2.46), (393.13, 2.00), (394.49, 2.40), (395.85, 1.77), (397.21, 1.66), (398.57, 1.54),
    (399.93, 1.77), (401.28, 1.89), (402.64, 2.00), (404.0, 2.11), (405.36, 2.00), (406.72, 1.89),
    (408.08, 1.77), (409.44, 1.48), (410.8, 1.66), (412.16, 1.60), (413.51, 1.77), (414.87, 1.66),
    (416.23, 1.89), (417.59, 1.66), (418.95, 2.63), (420.31, 2.11), (421.67, 1.60), (423.03, 1.77),
    (424.39, 2.06), (425.74, 2.46), (427.1, 1.89), (428.46, 1.66), (429.82, 1.94), (431.18, 2.23),
    (432.54, 1.77), (433.9, 2.86), (435.25, 2.11), (436.61, 1.66), (437.97, 1.48), (439.33, 1.66),
    (440.69, 1.89), (442.05, 1.77), (443.41, 1.54), (444.77, 1.83), (446.12, 1.66), (447.48, 1.77),
    (448.84, 1.89), (450.2, 1.94), (451.56, 1.77), (452.92, 1.71), (454.28, 1.66), (455.64, 1.60),
    (456.99, 1.43), (458.35, 1.25), (459.71, 1.66), (461.07, 1.89), (462.43, 1.89), (463.79, 1.60),
    (465.15, 2.00), (466.51, 1.89), (467.86, 1.83), (469.22, 2.06), (470.58, 1.89), (471.94, 1.66),
    (473.3, 1.89), (474.66, 2.00), (476.02, 2.11), (477.38, 2.34), (478.74, 2.40), (480.09, 1.94),
    (481.45, 1.66), (482.81, 1.83), (484.17, 1.89), (485.53, 1.71), (486.89, 1.54), (488.25, 1.83),
    (489.61, 2.11), (490.96, 1.89), (492.32, 1.66), (493.68, 1.83), (495.04, 1.77), (496.4, 2.11),
    (497.76, 1.77), (498.66, 1.37),
]

SERIES_NAMES = ["R10", "R50"]
SERIES_COLORS = ["#ff0000", "#0000ff"]
PANEL_TITLES = ["", "Ensemble mean", "Member 1", ""]
WIND_TICKS = [-0.01, 0.0, 0.01]
SPREAD_TICKS = [0.0, 0.005]
X_TICKS = [0, 100, 200, 300, 400, 500]

FONT = "DejaVu Sans"
LINE_W = 2.8
LEGEND_PAD = "\u00a0\u00a0"  # extra gap between legend line sample and label


def split(pairs):
    km = np.array([p[0] for p in pairs], dtype=float)
    val = np.array([p[1] for p in pairs], dtype=float) * WIND_UNIT
    return km, val


fig = go.Figure()

# panel 1: truth
x, y = split(TRUTH)
fig.add_trace(go.Scatter(x=x, y=y, mode="lines", name=LEGEND_PAD + "Truth",
                         line=dict(color="black", width=LINE_W),
                         xaxis="x", yaxis="y", legend="legend"))

panel_series = [
    (2, [MEAN_R10, MEAN_R50], "legend2"),
    (3, [MEMBER_R10, MEMBER_R50], "legend3"),
    (4, [SPREAD_R10, SPREAD_R50], "legend4"),
]
for idx, series, leg in panel_series:
    for pairs, name, color in zip(series, SERIES_NAMES, SERIES_COLORS):
        x, y = split(pairs)
        fig.add_trace(go.Scatter(x=x, y=y, mode="lines", name=LEGEND_PAD + name,
                                 line=dict(color=color, width=LINE_W),
                                 xaxis=f"x{idx}", yaxis=f"y{idx}", legend=leg))

# vertical placement of the four panels (paper fractions of the plot area)
domains = [[0.7837, 1.0], [0.5222, 0.7385], [0.2615, 0.4785], [0.0, 0.2185]]
y_ranges = [[-0.015, 0.015], [-0.01, 0.01], [-0.01, 0.01], [0.0, 0.005]]
y_minor = [0.002, 0.002, 0.002, 0.001]
y_minor_len = [12, 6, 6, 6]
y_titles = ["Wind [m/s]", "Wind [m/s]", "Wind [m/s]", "Spread [m/s]"]

layout = dict(
    width=906, height=1416,
    margin=dict(l=141, r=29, t=14, b=75, autoexpand=False),
    paper_bgcolor="white", plot_bgcolor="white",
    font=dict(family=FONT, size=25, color="black"),
    showlegend=True,
)

tick_font = dict(family=FONT, size=25, color="black")
for i in range(4):
    n = i + 1
    xa = "xaxis" if n == 1 else f"xaxis{n}"
    ya = "yaxis" if n == 1 else f"yaxis{n}"
    layout[xa] = dict(
        domain=[0, 1], anchor="y" if n == 1 else f"y{n}",
        matches=None if n == 1 else "x", automargin=False,
        range=[0, 500], tickmode="array", tickvals=X_TICKS,
        ticks="inside", ticklen=12, tickwidth=1.5, tickcolor="black",
        minor=dict(ticks="inside", dtick=20, tick0=0, ticklen=6, tickwidth=1.5, tickcolor="black"),
        showline=True, linewidth=2.5, linecolor="black", mirror="ticks",
        showgrid=False, zeroline=False,
        showticklabels=(n == 4), tickfont=tick_font,
    )
    if n == 4:
        layout[xa]["title"] = dict(text="Distance [km]", font=dict(family=FONT, size=25), standoff=14)

    if n < 4:
        ymajor = dict(tickmode="array", tickvals=WIND_TICKS, tickformat=".2f")
    else:
        ymajor = dict(tickmode="array", tickvals=SPREAD_TICKS,
                      ticktext=[f"{v / WIND_UNIT:g}" for v in SPREAD_TICKS])
    layout[ya] = dict(
        domain=domains[i], anchor="x" if n == 1 else f"x{n}", automargin=False,
        range=y_ranges[i], **ymajor,
        ticks="inside", ticklen=12, tickwidth=1.5, tickcolor="black",
        minor=dict(ticks="inside", dtick=y_minor[i], tick0=0, ticklen=y_minor_len[i],
                   tickwidth=1.5, tickcolor="black"),
        showline=True, linewidth=2.5, linecolor="black", mirror=True,
        showgrid=False, zeroline=False, tickfont=tick_font,
        title=dict(text=y_titles[i], font=dict(family=FONT, size=25),
                   standoff=16 if n < 4 else 26),
    )
    # right-hand tick marks drawn by an overlaid axis sharing the same range
    layout[f"yaxis{n + 4}"] = dict(
        overlaying="y" if n == 1 else f"y{n}", side="right",
        anchor="x" if n == 1 else f"x{n}", automargin=False,
        range=y_ranges[i], tickmode="linear", tick0=0, dtick=y_minor[i],
        ticks="inside", ticklen=12, tickwidth=1.5, tickcolor="black",
        showticklabels=False, showline=False, showgrid=False, zeroline=False,
    )

legend_common = dict(bgcolor="white", bordercolor="black", borderwidth=2.5,
                     font=dict(family=FONT, size=19, color="black"),
                     tracegroupgap=0, itemwidth=30)
layout["legend"] = dict(x=0.0136, y=0.9925, xanchor="left", yanchor="top", **legend_common)
layout["legend2"] = dict(x=0.0136, y=0.7325, xanchor="left", yanchor="top", **legend_common)
layout["legend3"] = dict(x=0.985, y=0.4717, xanchor="right", yanchor="top", **legend_common)
layout["legend4"] = dict(x=0.0136, y=0.211, xanchor="left", yanchor="top", **legend_common)

annotations = []
for i, title in enumerate(PANEL_TITLES):
    if title:
        annotations.append(dict(text=title, x=0.5, xref="paper", y=domains[i][1], yref="paper",
                                xanchor="center", yanchor="bottom", yshift=8, showarrow=False,
                                font=dict(family=FONT, size=25, color="black")))
annotations.append(dict(text="1e\u22123", x=0.0, xref="paper", y=domains[3][1], yref="paper",
                        xanchor="left", yanchor="bottom", yshift=2, showarrow=False,
                        font=dict(family=FONT, size=25, color="black")))
layout["annotations"] = annotations

fig.update_layout(**layout)
fig.write_html("out.html")
